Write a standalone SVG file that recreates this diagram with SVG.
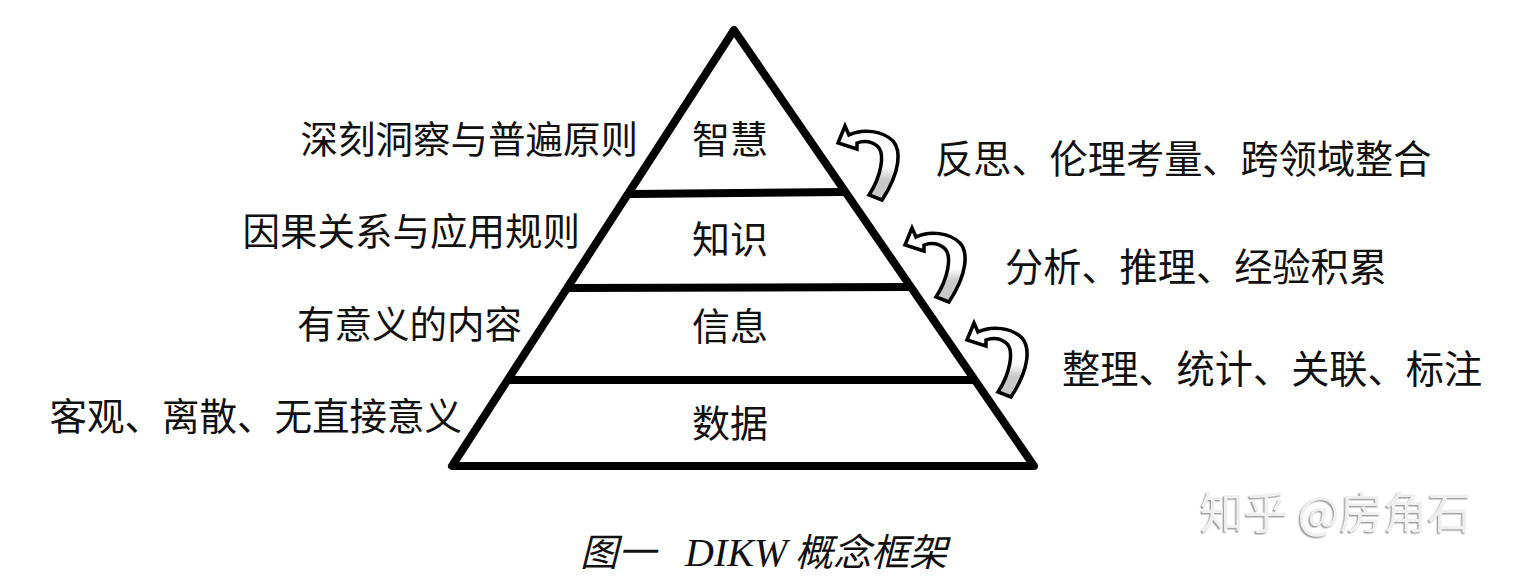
<svg xmlns="http://www.w3.org/2000/svg" width="1521" height="577" viewBox="0 0 1521 577">
  <style>
    .cjk { font-family: "Noto Sans CJK SC", "Noto Sans CJK JP", sans-serif; fill: #111; }
    .side { font-size: 37.5px; }
    .right { font-size: 38.2px; }
    .inner { font-size: 38px; text-anchor: middle; }
    .edge { fill: none; stroke: #000; stroke-width: 8; stroke-linecap: round; stroke-linejoin: round; }
    .arrow { fill: url(#arrowFill); stroke: #000; stroke-width: 3.5; stroke-linejoin: miter; }
  </style>
  <defs>
    <linearGradient id="arrowFill" x1="0" y1="0" x2="0" y2="1">
      <stop offset="0" stop-color="#ffffff"/>
      <stop offset="0.55" stop-color="#ffffff"/>
      <stop offset="0.72" stop-color="#c8c8c8"/>
      <stop offset="1" stop-color="#c8c8c8"/>
    </linearGradient>
    <path id="curl" d="M0,0 L7,-17 L11,-8 C25,-15 45,-12 55,-2 C63,7 63,28 44,57 L31,52 C44,32 46,12 41,5 C35,-2 26,-3 19,0 L19,6 Z"/>
    <filter id="emboss" x="-5%" y="-20%" width="110%" height="140%">
      <feDropShadow dx="-1.5" dy="1.5" stdDeviation="0.6" flood-color="#9a9a9a" flood-opacity="0.9"/>
    </filter>
  </defs>
  <rect width="1521" height="577" fill="#ffffff"/>

  <g id="pyramid">
    <path class="edge" d="M734,30 L452,466 L1034,466 Z"/>
    <line class="edge" x1="631" y1="194" x2="843" y2="192"/>
    <line class="edge" x1="569" y1="288" x2="910" y2="287"/>
    <line class="edge" x1="510" y1="380" x2="973" y2="380"/>
  </g>

  <g id="wisdom">
    <text class="cjk inner" x="730" y="153">智慧</text>
    <text class="cjk side" x="638" y="153" text-anchor="end">深刻洞察与普遍原则</text>
  </g>
  <g id="knowledge">
    <text class="cjk inner" x="730" y="253">知识</text>
    <text class="cjk side" x="580" y="245" text-anchor="end">因果关系与应用规则</text>
  </g>
  <g id="information">
    <text class="cjk inner" x="730" y="340">信息</text>
    <text class="cjk side" x="522" y="338" text-anchor="end">有意义的内容</text>
  </g>
  <g id="data">
    <text class="cjk inner" x="730" y="437">数据</text>
    <text class="cjk side" x="462" y="430" text-anchor="end">客观、离散、无直接意义</text>
  </g>

  <g id="connectors">
    <use href="#curl" class="arrow" transform="translate(838,143)"/>
    <use href="#curl" class="arrow" transform="translate(905,245)"/>
    <use href="#curl" class="arrow" transform="translate(967,340)"/>
  </g>

  <g id="transitions">
    <text class="cjk right" x="935" y="173">反思、伦理考量、跨领域整合</text>
    <text class="cjk right" x="1005" y="281">分析、推理、经验积累</text>
    <text class="cjk right" x="1062" y="383">整理、统计、关联、标注</text>
  </g>

  <g id="caption">
    <text class="cjk" font-size="38" font-style="italic" y="566"><tspan x="580">图一</tspan><tspan x="685" font-family="Liberation Serif, serif" font-size="40">DIKW</tspan><tspan x="795">概念框架</tspan></text>
  </g>

  <g id="watermark">
    <text x="1200" y="529" font-family="Noto Sans CJK SC, sans-serif" font-size="44" fill="#efefef" filter="url(#emboss)">知乎 @房角石</text>
  </g>
</svg>
